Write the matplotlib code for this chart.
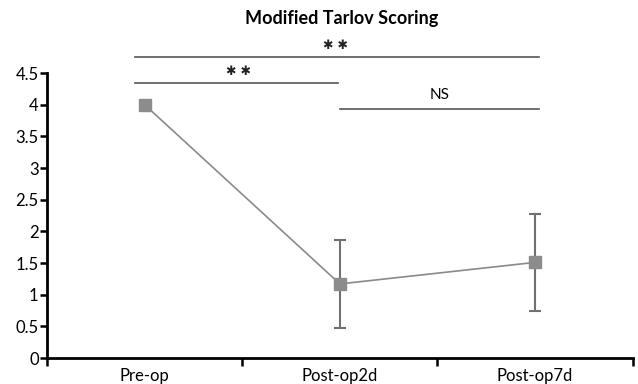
import matplotlib
matplotlib.use("Agg")
import matplotlib.pyplot as plt
from matplotlib.ticker import FixedLocator

plt.rcParams["font.family"] = ["Lato", "DejaVu Sans"]

groups = ["Pre-op", "Post-op2d", "Post-op7d"]
means = [4.0, 1.17, 1.51]
sds = [0.0, 0.69, 0.77]

# significance brackets: (start group, end group, y level, label)
sig_pairs = [(0, 2, 4.76, "✱ ✱"), (0, 1, 4.34, "✱ ✱"), (1, 2, 3.94, "NS")]

fig = plt.figure(figsize=(6.38, 3.84), dpi=100)
ax = fig.add_axes([0.0737, 0.0677, 0.918, 0.742])

x = list(range(len(groups)))
ax.plot(x, means, color="#8a8a8a", lw=1.2, zorder=2)
ax.errorbar(x[1:], means[1:], yerr=sds[1:], fmt="none", ecolor="#707070",
            elinewidth=1.5, capsize=4, capthick=1.5, zorder=3)
ax.plot(x, means, "s", color="#8c8c8c", ms=8, zorder=4)

ax.set_xlim(-0.5, 2.5)
ax.set_ylim(0, 4.5)
ax.set_yticks([0, 0.5, 1, 1.5, 2, 2.5, 3, 3.5, 4, 4.5])
ax.set_yticklabels(["0", "0.5", "1", "1.5", "2", "2.5", "3", "3.5", "4", "4.5"])
ax.set_xticks(x)
ax.set_xticklabels(groups)
ax.xaxis.set_minor_locator(FixedLocator([-0.5, 0.5, 1.5, 2.5]))
ax.tick_params(axis="x", which="major", length=0, labelsize=12, pad=7)
ax.tick_params(axis="x", which="minor", length=6, width=1.8, direction="out")
ax.tick_params(axis="y", length=5, width=1.8, labelsize=12, pad=1)

for side in ["top", "right"]:
    ax.spines[side].set_visible(False)
for side in ["left", "bottom"]:
    ax.spines[side].set_linewidth(2)

last = len(groups) - 1
for a, b, y, lab in sig_pairs:
    x0 = a - 0.05 if a == 0 else a
    x1 = b + 0.02 if b == last else b - 0.01
    ax.plot([x0, x1], [y, y], color="#555555", lw=1.2, clip_on=False)
    if lab == "NS":
        ax.text((a + b) / 2 + 0.01, y + 0.1, lab, ha="center", va="bottom", fontsize=11)
    else:
        ax.text((a + b) / 2 - 0.02, y + 0.08, lab, ha="center", va="bottom", fontsize=9,
                family="DejaVu Sans", color="#222222")

fig.text(0.535, 0.953, "Modified Tarlov Scoring", ha="center", va="center",
         fontsize=13, fontweight="bold")

fig.savefig("out.png", dpi=100)
